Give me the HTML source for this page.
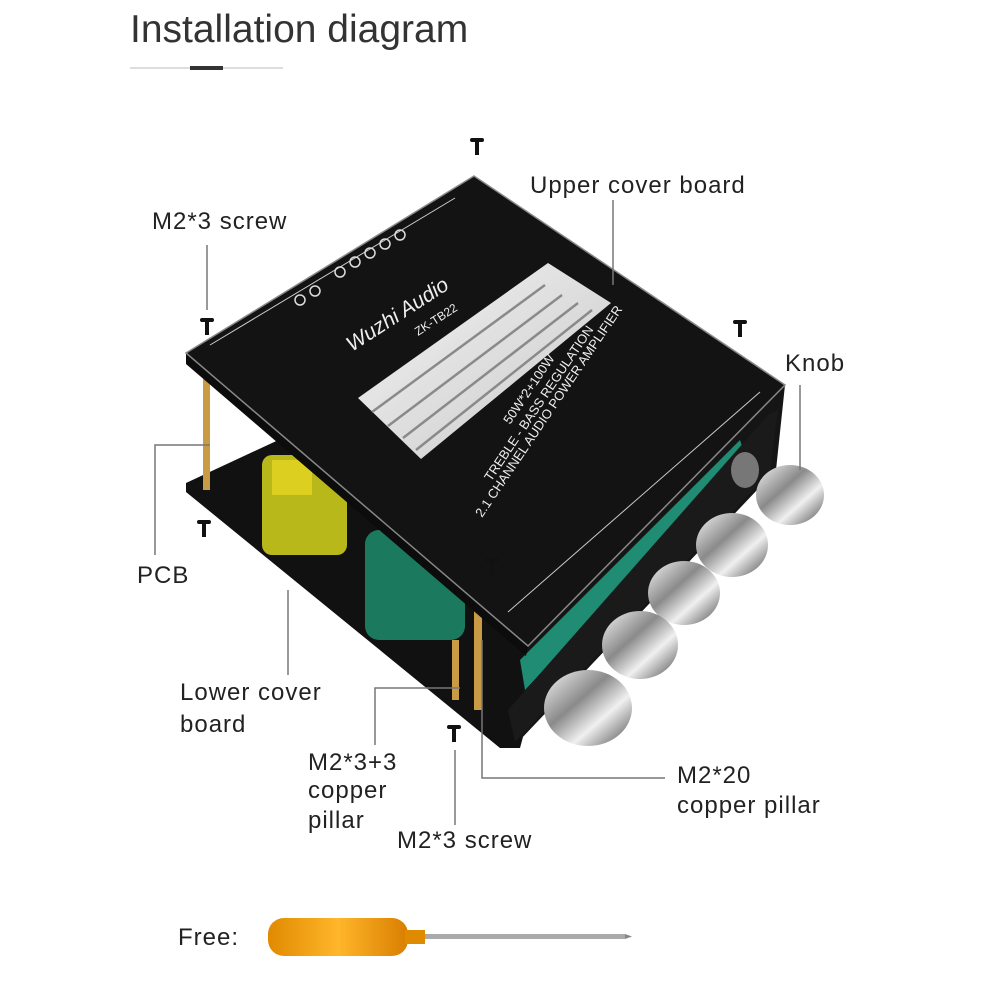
<!DOCTYPE html>
<html><head><meta charset="utf-8"><style>
html,body{margin:0;padding:0;background:#fff;}
svg{display:block}
text{font-family:"Liberation Sans",sans-serif;}
</style></head><body>
<svg width="1000" height="1000" viewBox="0 0 1000 1000" xmlns="http://www.w3.org/2000/svg">
<defs>
<linearGradient id="kn" x1="0" y1="0" x2="1" y2="1">
<stop offset="0" stop-color="#f6f6f6"/><stop offset="0.4" stop-color="#8a8a8a"/><stop offset="0.65" stop-color="#f0f0f0"/><stop offset="1" stop-color="#4a4a4a"/></linearGradient>
<linearGradient id="hs" x1="0" y1="0" x2="1" y2="1">
<stop offset="0" stop-color="#f4f4f4"/><stop offset="1" stop-color="#c8c8c8"/></linearGradient>
<linearGradient id="hd" x1="0" y1="0" x2="1" y2="0">
<stop offset="0" stop-color="#e08a00"/><stop offset="0.5" stop-color="#ffb62a"/><stop offset="1" stop-color="#d97e00"/></linearGradient>
</defs>
<text x="130" y="42" font-size="39" style="fill:#333">Installation diagram</text>
<line x1="130" y1="68" x2="283" y2="68" stroke="#bbb" stroke-width="1"/>
<rect x="190" y="66" width="33" height="4" fill="#333"/>

<!-- lower board -->
<polygon points="186,483 300,430 560,600 520,748 500,748 186,492" fill="#111"/>
<!-- capacitors -->
<rect x="262" y="455" width="85" height="100" rx="10" fill="#b8b81a"/>
<rect x="272" y="460" width="40" height="35" fill="#dccf20"/>
<rect x="365" y="530" width="100" height="110" rx="14" fill="#1b7a5e"/>
<!-- pillars -->
<rect x="203" y="365" width="7" height="125" fill="#c99b45"/>
<rect x="474" y="600" width="8" height="110" fill="#c99b45"/>
<rect x="452" y="640" width="7" height="60" fill="#c99b45"/>
<!-- area under right edge -->
<polygon points="528,646 785,385 776,470 520,740" fill="#151515"/>
<polygon points="520,660 740,440 745,455 525,690" fill="#1f8c73"/>
<polygon points="768,415 778,410 770,472 515,742 508,710" fill="#1a1a1a"/>
<!-- upper cover -->
<polygon points="186,353 474,176 785,385 528,646 526,656 186,364" fill="#0c0c0c"/>
<polygon points="186,353 474,176 785,385 528,646" fill="#131313" stroke="#888" stroke-width="1.5"/>
<!-- heatsink window -->
<polygon points="548,263 611,303 421,459 358,398" fill="url(#hs)"/>
<g stroke="#8a8a8a" stroke-width="2.5">
<line x1="372" y1="412" x2="545" y2="285"/><line x1="388" y1="426" x2="562" y2="295"/>
<line x1="403" y1="438" x2="578" y2="303"/><line x1="416" y1="450" x2="592" y2="310"/></g>
<text x="352" y="352" font-size="21" font-style="italic" transform="rotate(-33 352 352)" font-family="Liberation Serif" style="fill:#eee">Wuzhi Audio</text>
<text x="418" y="336" font-size="12" transform="rotate(-33 418 336)" style="fill:#eee">ZK-TB22</text>
<text x="510" y="425" font-size="13" transform="rotate(-56 510 425)" style="fill:#eee">50W*2+100W</text>
<text x="491" y="482" font-size="13" transform="rotate(-56 491 482)" style="fill:#eee">TREBLE - BASS REGULATION</text>
<text x="482" y="518" font-size="13" transform="rotate(-56 482 518)" style="fill:#eee">2.1 CHANNEL AUDIO POWER AMPLIFIER</text>
<g stroke="#ccc" fill="none" stroke-width="1">
<polyline points="210,345 455,198"/>
<polyline points="508,612 760,392"/>
</g>
<g fill="none" stroke="#ddd" stroke-width="1.5">
<circle cx="340" cy="272" r="5"/><circle cx="355" cy="262" r="5"/><circle cx="370" cy="253" r="5"/><circle cx="385" cy="244" r="5"/><circle cx="400" cy="235" r="5"/>
<circle cx="300" cy="300" r="5"/><circle cx="315" cy="291" r="5"/>
</g>
<!-- knobs -->
<g>
<ellipse cx="745" cy="470" rx="14" ry="18" fill="#777"/>
<ellipse cx="790" cy="495" rx="34" ry="30" fill="url(#kn)"/>
<ellipse cx="732" cy="545" rx="36" ry="32" fill="url(#kn)"/>
<ellipse cx="684" cy="593" rx="36" ry="32" fill="url(#kn)"/>
<ellipse cx="640" cy="645" rx="38" ry="34" fill="url(#kn)"/>
<ellipse cx="588" cy="708" rx="44" ry="38" fill="url(#kn)"/>
</g>
<!-- screws -->
<g fill="#111">
<rect x="470" y="138" width="14" height="4" rx="2"/><rect x="475" y="141" width="4" height="14"/>
<rect x="200" y="318" width="14" height="4" rx="2"/><rect x="205" y="321" width="4" height="14"/>
<rect x="733" y="320" width="14" height="4" rx="2"/><rect x="738" y="323" width="4" height="14"/>
<rect x="197" y="520" width="14" height="4" rx="2"/><rect x="202" y="523" width="4" height="14"/>
<rect x="485" y="558" width="14" height="4" rx="2"/><rect x="490" y="561" width="4" height="14"/>
<rect x="447" y="725" width="14" height="4" rx="2"/><rect x="452" y="728" width="4" height="14"/>
</g>

<!-- leaders -->
<g stroke="#777" stroke-width="1.5" fill="none">
<line x1="613" y1="200" x2="613" y2="285"/>
<line x1="207" y1="245" x2="207" y2="310"/>
<line x1="800" y1="385" x2="800" y2="470"/>
<polyline points="210,445 155,445 155,555"/>
<line x1="288" y1="590" x2="288" y2="675"/>
<polyline points="460,688 375,688 375,745"/>
<polyline points="482,640 482,778 665,778"/>
<line x1="455" y1="750" x2="455" y2="825"/>
</g>

<g font-size="24" letter-spacing="1" style="fill:#222">
<text x="530" y="193">Upper cover board</text>
<text x="152" y="229">M2*3 screw</text>
<text x="785" y="371">Knob</text>
<text x="137" y="583">PCB</text>
<text x="180" y="700">Lower cover</text>
<text x="180" y="732">board</text>
<text x="308" y="770">M2*3+3</text>
<text x="308" y="798">copper</text>
<text x="308" y="828">pillar</text>
<text x="677" y="783">M2*20</text>
<text x="677" y="813">copper pillar</text>
<text x="397" y="848">M2*3 screw</text>
<text x="178" y="945">Free:</text>
</g>
<!-- screwdriver -->
<rect x="268" y="918" width="140" height="38" rx="16" fill="url(#hd)"/>
<rect x="405" y="930" width="20" height="14" fill="#e08a00"/>
<rect x="425" y="934" width="200" height="5" fill="#aaa"/>
<polygon points="625,934 632,936.5 625,939" fill="#888"/>
</svg>
</body></html>
